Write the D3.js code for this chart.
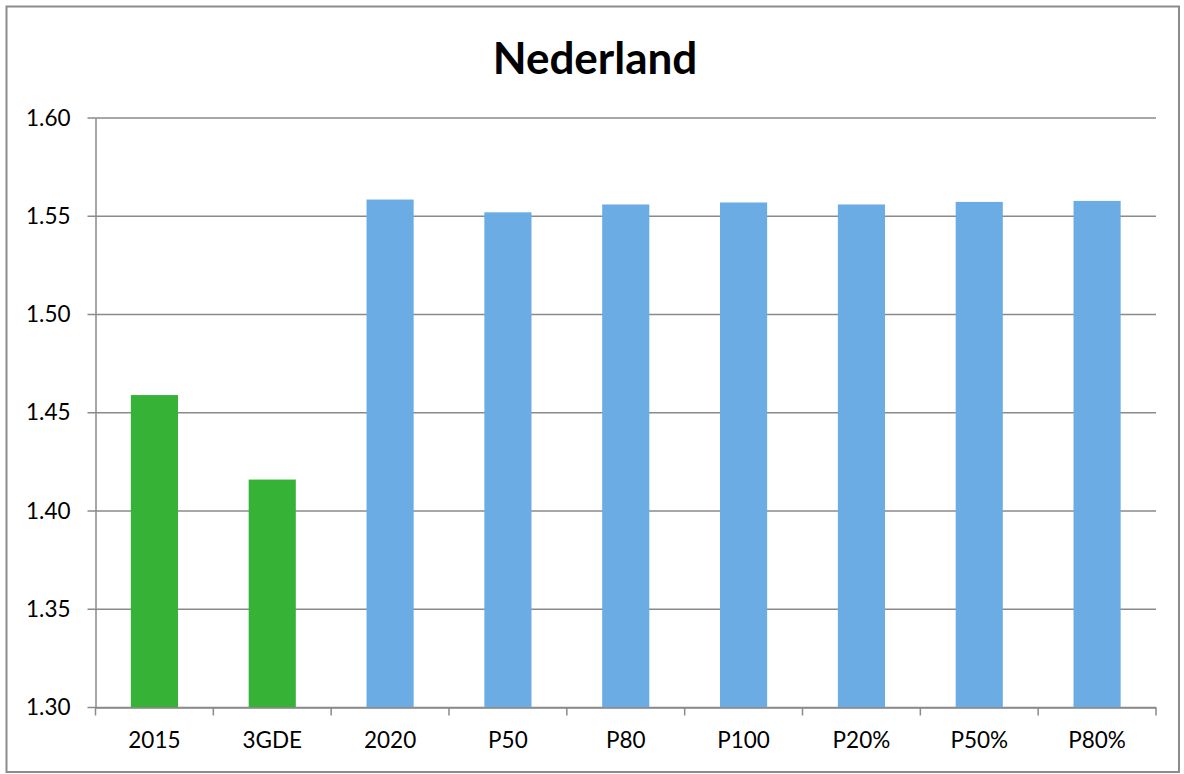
<!DOCTYPE html>
<html>
<head>
<meta charset="utf-8">
<script src="https://cdn.jsdelivr.net/npm/d3@7"></script>
<style>
  body { margin: 0; background: #fff; }
  svg { display: block; font-family: Lato, "Open Sans", sans-serif; }
</style>
</head>
<body>
<script>
// chart values
var categories = ["2015", "3GDE", "2020", "P50", "P80", "P100", "P20%", "P50%", "P80%"];
var values = [1.459, 1.416, 1.5585, 1.552, 1.556, 1.557, 1.556, 1.5573, 1.5578];
var barColors = ["#36b236", "#36b236", "#6aace3", "#6aace3", "#6aace3", "#6aace3", "#6aace3", "#6aace3", "#6aace3"];
var yTicks = [1.30, 1.35, 1.40, 1.45, 1.50, 1.55, 1.60];

var w = 1184, h = 774;
var margin = {top: 118, right: 28, bottom: 66.5, left: 95.5};

var svg = d3.select("body").append("svg")
    .attr("width", w)
    .attr("height", h);

// outer chart border
svg.append("rect")
    .attr("x", 6.5).attr("y", 6.5)
    .attr("width", w - 5 - 6.5).attr("height", h - 2 - 6.5)
    .attr("fill", "#fff")
    .attr("stroke", "#8c8c8c")
    .attr("stroke-width", 2);

var x = d3.scaleBand()
    .domain(categories)
    .range([margin.left, w - margin.right])
    .paddingInner(0.6)
    .paddingOuter(0.3);

var y = d3.scaleLinear()
    .domain([1.30, 1.60])
    .range([h - margin.bottom, margin.top]);

// gridlines
svg.append("g")
    .selectAll("line")
    .data(yTicks)
    .enter()
    .append("line")
    .attr("x1", margin.left - 8)
    .attr("x2", w - margin.right)
    .attr("y1", function(d) { return y(d); })
    .attr("y2", function(d) { return y(d); })
    .attr("stroke", "#8a8a8a")
    .attr("stroke-width", 1.5);

// bars
svg.append("g")
    .selectAll("rect")
    .data(values)
    .enter()
    .append("rect")
    .attr("x", function(d, i) { return x(categories[i]); })
    .attr("y", function(d) { return y(d); })
    .attr("width", x.bandwidth())
    .attr("height", function(d) { return y(1.30) - y(d); })
    .attr("fill", function(d, i) { return barColors[i]; });

// y axis
var yAxis = d3.axisLeft(y)
    .tickValues(yTicks)
    .tickFormat(d3.format(".2f"))
    .tickSize(0)
    .tickPadding(25);

var gy = svg.append("g")
    .attr("transform", "translate(" + margin.left + ",0)")
    .call(yAxis);
gy.select(".domain").attr("stroke", "#8a8a8a").attr("stroke-width", 1.5);
gy.selectAll("text")
    .attr("font-size", "22.5px")
    .attr("fill", "#000")
    .attr("font-family", "Lato, 'Open Sans', sans-serif");

// x axis
var xAxis = d3.axisBottom(x)
    .tickSize(0)
    .tickPadding(25);

var gx = svg.append("g")
    .attr("transform", "translate(0," + (h - margin.bottom) + ")")
    .call(xAxis);
gx.select(".domain").attr("stroke", "#8a8a8a").attr("stroke-width", 1.5);
gx.selectAll("text")
    .attr("font-size", "22.5px")
    .attr("fill", "#000")
    .attr("font-family", "Lato, 'Open Sans', sans-serif");

// x tick marks at category boundaries
svg.append("g")
    .selectAll("line")
    .data(d3.range(categories.length + 1))
    .enter()
    .append("line")
    .attr("x1", function(i) { return margin.left + i * (w - margin.right - margin.left) / categories.length; })
    .attr("x2", function(i) { return margin.left + i * (w - margin.right - margin.left) / categories.length; })
    .attr("y1", h - margin.bottom)
    .attr("y2", h - margin.bottom + 8)
    .attr("stroke", "#8a8a8a")
    .attr("stroke-width", 1.5);

// title
svg.append("text")
    .attr("x", 595)
    .attr("y", 74)
    .attr("text-anchor", "middle")
    .attr("font-size", "44px")
    .attr("font-weight", "bold")
    .attr("fill", "#000")
    .text("Nederland");
</script>
</body>
</html>
